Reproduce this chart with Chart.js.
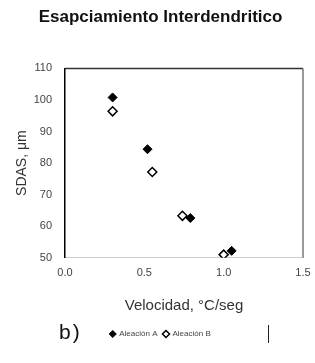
<!DOCTYPE html>
<html>
<head>
<meta charset="utf-8">
<script src="https://cdn.jsdelivr.net/npm/chart.js@4"></script>
<style>
  body { margin: 0; background: #fff; }
  #wrap { position: relative; width: 315px; height: 363px; }
  #etiqueta { position: absolute; left: 59px; top: 320px; font: 21px "Liberation Sans", Arial, sans-serif; letter-spacing: 2px; color: #111; }
  #barra { position: absolute; left: 268px; top: 325px; width: 1px; height: 18px; background: #222; }
</style>
</head>
<body>
<div id="wrap">
  <canvas id="myChart" width="315" height="363"></canvas>
  <div id="etiqueta">b)</div>
  <div id="barra"></div>
</div>
<script>
const titulo = 'Esapciamiento Interdendritico';
const nombres = ['Aleación A', 'Aleación B'];
const velocidadA = [0.30, 0.52, 0.79, 1.05];
const sdasA = [100.8, 84.4, 62.6, 52.2];
const velocidadB = [0.30, 0.55, 0.74, 1.00];
const sdasB = [96.4, 77.2, 63.3, 51.0];
const ejeX = { min: 0, max: 1.5, paso: 0.5 };
const ejeY = { min: 50, max: 110, paso: 10 };

const puntos = (xs, ys) => xs.map((x, i) => ({ x: x, y: ys[i] }));
const fuente = '"Liberation Sans", Arial, sans-serif';

// marco superior y derecho del area de trazado
const marco = {
    id: 'marco',
    afterDraw(chart) {
        const { ctx, chartArea: a } = chart;
        ctx.save();
        ctx.lineWidth = 1.5;
        ctx.strokeStyle = '#333';
        ctx.beginPath();
        ctx.moveTo(a.left, a.top);
        ctx.lineTo(a.right, a.top);
        ctx.stroke();
        ctx.strokeStyle = '#777';
        ctx.beginPath();
        ctx.moveTo(a.right, a.top);
        ctx.lineTo(a.right, a.bottom);
        ctx.stroke();
        ctx.restore();
    }
};

const ctx = document.getElementById('myChart').getContext('2d');
const myChart = new Chart(ctx, {
    type: 'scatter',
    data: {
        datasets: [{
            label: nombres[0],
            data: puntos(velocidadA, sdasA),
            pointStyle: 'rectRot',
            pointRadius: 4.5,
            backgroundColor: '#000',
            borderColor: '#000',
            borderWidth: 1
        }, {
            label: nombres[1],
            data: puntos(velocidadB, sdasB),
            pointStyle: 'rectRot',
            pointRadius: 4.5,
            backgroundColor: '#fff',
            borderColor: '#000',
            borderWidth: 1.5
        }]
    },
    options: {
        responsive: false,
        animation: false,
        layout: { padding: { left: 18, right: 12, top: 0, bottom: 15 } },
        plugins: {
            title: {
                display: true,
                text: titulo,
                color: '#111',
                font: { family: fuente, size: 17, weight: 'bold' },
                padding: { top: 7, bottom: 41 }
            },
            legend: {
                position: 'bottom',
                labels: {
                    usePointStyle: true,
                    boxWidth: 5,
                    boxHeight: 5,
                    padding: 6,
                    color: '#444',
                    font: { family: fuente, size: 8 }
                }
            },
            tooltip: { enabled: false }
        },
        scales: {
            x: {
                type: 'linear',
                min: ejeX.min,
                max: ejeX.max,
                grid: { display: false, drawTicks: false },
                border: { color: '#ccc', width: 1 },
                ticks: {
                    stepSize: ejeX.paso,
                    padding: 9,
                    color: '#444',
                    font: { family: fuente, size: 11 },
                    callback: v => v.toFixed(1)
                },
                title: {
                    display: true,
                    text: 'Velocidad, °C/seg',
                    color: '#333',
                    font: { family: fuente, size: 15 },
                    padding: { top: 8, bottom: 9 }
                },
                afterFit: scale => { scale.paddingRight = 0; scale.paddingLeft = 0; }
            },
            y: {
                type: 'linear',
                min: ejeY.min,
                max: ejeY.max,
                grid: { display: false, drawTicks: false },
                border: { color: '#000', width: 1.5 },
                ticks: {
                    stepSize: ejeY.paso,
                    padding: 13,
                    color: '#444',
                    font: { family: fuente, size: 11 }
                },
                title: {
                    display: true,
                    text: 'SDAS, μm',
                    color: '#333',
                    font: { family: fuente, size: 14 },
                    padding: { top: -4, bottom: 0 }
                },
                afterFit: scale => { scale.width = 47; }
            }
        }
    },
    plugins: [marco]
});
</script>
</body>
</html>
